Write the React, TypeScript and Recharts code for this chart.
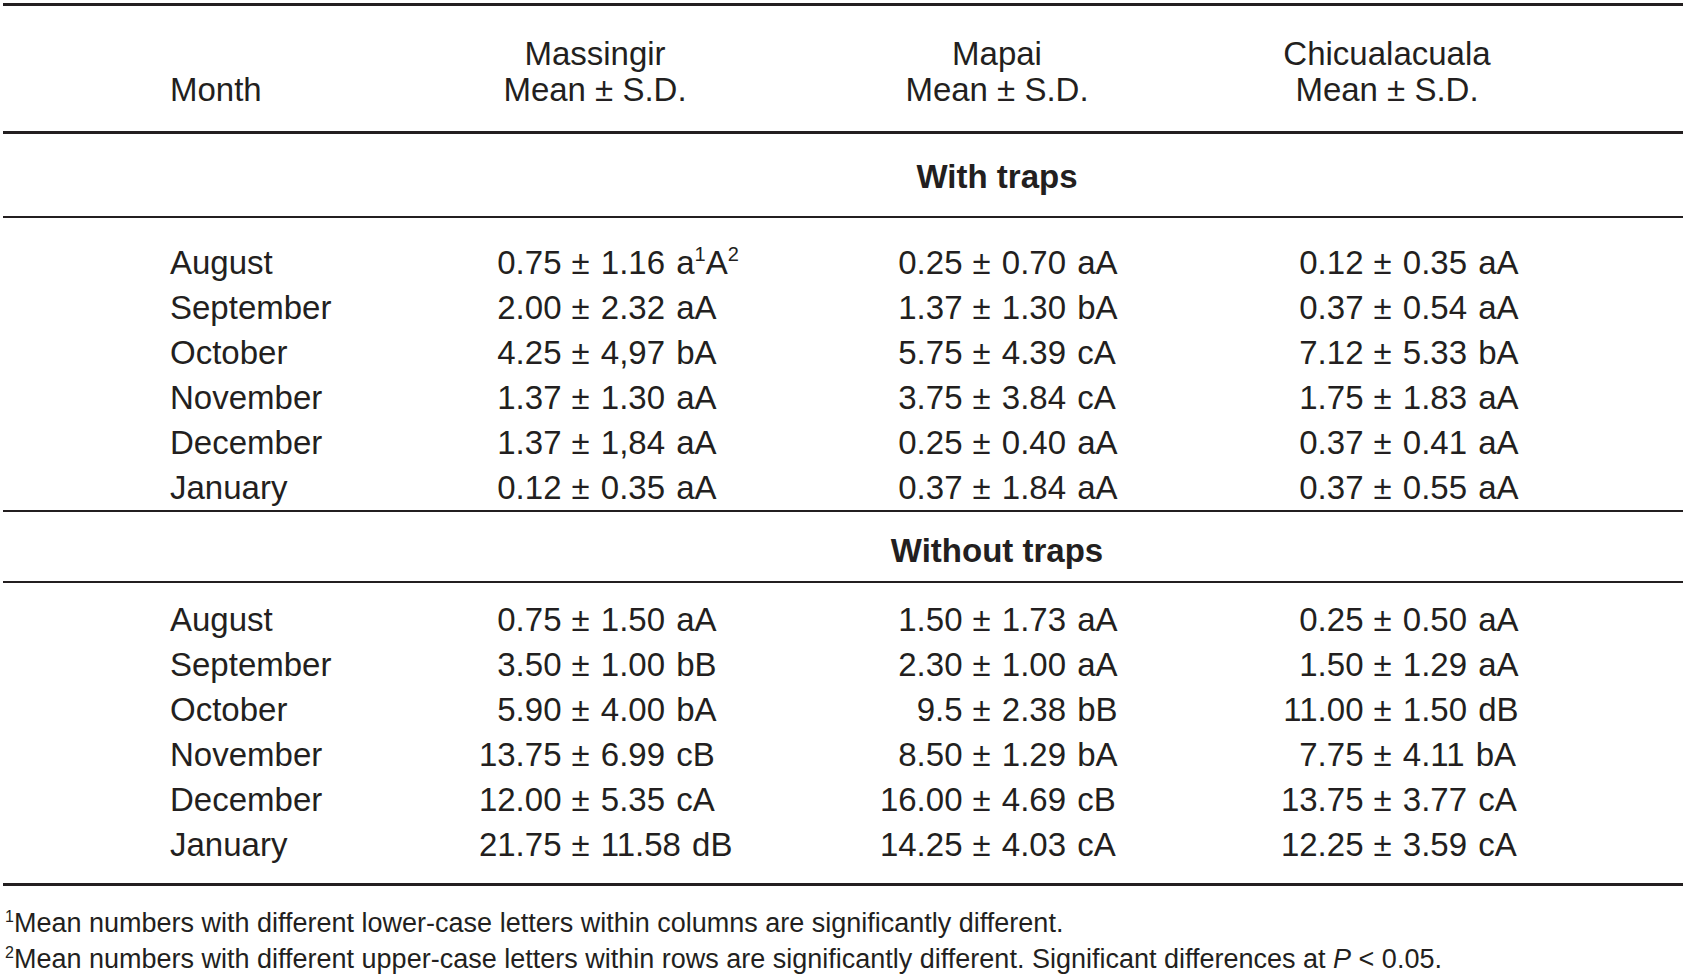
import React from "react";
import { ScatterChart, Scatter, XAxis, YAxis } from "recharts";

// table values
const months = ["August", "September", "October", "November", "December", "January"];
const sites = ["Massingir", "Mapai", "Chicualacuala"];
const sections = ["With traps", "Without traps"];

const withMassingirMean = ["0.75", "2.00", "4.25", "1.37", "1.37", "0.12"];
const withMassingirSD = ["1.16", "2.32", "4,97", "1.30", "1,84", "0.35"];
const withMassingirSig = ["a^1A^2", "aA", "bA", "aA", "aA", "aA"];
const withMapaiMean = ["0.25", "1.37", "5.75", "3.75", "0.25", "0.37"];
const withMapaiSD = ["0.70", "1.30", "4.39", "3.84", "0.40", "1.84"];
const withMapaiSig = ["aA", "bA", "cA", "cA", "aA", "aA"];
const withChicMean = ["0.12", "0.37", "7.12", "1.75", "0.37", "0.37"];
const withChicSD = ["0.35", "0.54", "5.33", "1.83", "0.41", "0.55"];
const withChicSig = ["aA", "aA", "bA", "aA", "aA", "aA"];

const withoutMassingirMean = ["0.75", "3.50", "5.90", "13.75", "12.00", "21.75"];
const withoutMassingirSD = ["1.50", "1.00", "4.00", "6.99", "5.35", "11.58"];
const withoutMassingirSig = ["aA", "bB", "bA", "cB", "cA", "dB"];
const withoutMapaiMean = ["1.50", "2.30", "9.5", "8.50", "16.00", "14.25"];
const withoutMapaiSD = ["1.73", "1.00", "2.38", "1.29", "4.69", "4.03"];
const withoutMapaiSig = ["aA", "aA", "bB", "bA", "cB", "cA"];
const withoutChicMean = ["0.25", "1.50", "11.00", "7.75", "13.75", "12.25"];
const withoutChicSD = ["0.50", "1.29", "1.50", "4.11", "3.77", "3.59"];
const withoutChicSig = ["aA", "aA", "dB", "bA", "cA", "cA"];

const footnotes = [
  { mark: "1", text: "Mean numbers with different lower-case letters within columns are significantly different." },
  { mark: "2", text: "Mean numbers with different upper-case letters within rows are significantly different. Significant differences at ", italic: "P", tail: " < 0.05." },
];

const TEXT = "#231f20";
const FONT = '"Liberation Sans", Arial, Helvetica, sans-serif';
const FS = 33;
const MONTH_X = 170;

function build(site: string, means: string[], sds: string[], sigs: string[]) {
  return months.map((month, i) => ({ site, month, mean: means[i], sd: sds[i], sig: sigs[i] }));
}

const withData = [
  build(sites[0], withMassingirMean, withMassingirSD, withMassingirSig),
  build(sites[1], withMapaiMean, withMapaiSD, withMapaiSig),
  build(sites[2], withChicMean, withChicSD, withChicSig),
];
const withoutData = [
  build(sites[0], withoutMassingirMean, withoutMassingirSD, withoutMassingirSig),
  build(sites[1], withoutMapaiMean, withoutMapaiSD, withoutMapaiSig),
  build(sites[2], withoutChicMean, withoutChicSD, withoutChicSig),
];

// "a^1A^2" -> letters with raised footnote marks
function sigParts(sig: string) {
  const out: React.ReactNode[] = [];
  let raised = false;
  let nextSup = false;
  let k = 0;
  for (const ch of sig) {
    if (ch === "^") {
      nextSup = true;
      continue;
    }
    if (nextSup) {
      out.push(<tspan key={k++} dy={-13} fontSize={20}>{ch}</tspan>);
      raised = true;
      nextSup = false;
    } else {
      out.push(<tspan key={k++} dy={raised ? 13 : 0}>{ch}</tspan>);
      raised = false;
    }
  }
  return out;
}

function Cell(props: any) {
  const { cx, cy, payload } = props;
  if (cx == null || cy == null) return null;
  return (
    <g>
      <text x={cx} y={cy} dy="0.36em" textAnchor="end" fontSize={FS} fill={TEXT} fontFamily={FONT}>
        {payload.mean}
      </text>
      <text
        x={cx + 10}
        y={cy}
        dy="0.36em"
        textAnchor="start"
        fontSize={FS}
        fill={TEXT}
        fontFamily={FONT}
        wordSpacing={2}
      >
        {`± ${payload.sd} `}
        {sigParts(payload.sig)}
      </text>
    </g>
  );
}

function MonthTick({ y, payload }: any) {
  return (
    <text x={MONTH_X} y={y} dy="0.36em" textAnchor="start" fontSize={FS} fill={TEXT} fontFamily={FONT}>
      {payload.value}
    </text>
  );
}

function Section({ data, top }: { data: any[][]; top: number }) {
  return (
    <div style={{ position: "absolute", left: 0, top }}>
      <ScatterChart width={1686} height={270} margin={{ top: 0, right: 122, bottom: 0, left: 0 }}>
        <XAxis type="category" dataKey="site" allowDuplicatedCategory={false} hide />
        <YAxis
          type="category"
          dataKey="month"
          allowDuplicatedCategory={false}
          reversed
          width={361}
          axisLine={false}
          tickLine={false}
          tick={<MonthTick />}
          interval={0}
        />
        {data.map((d, i) => (
          <Scatter key={sites[i]} data={d} shape={<Cell />} isAnimationActive={false} />
        ))}
      </ScatterChart>
    </div>
  );
}

function Rule({ top, h }: { top: number; h: number }) {
  return <div style={{ position: "absolute", left: 3, width: 1680, top, height: h, background: TEXT }} />;
}

function Label({ x, y, text, bold, align = "center" }: any) {
  const lh = 40;
  const style: React.CSSProperties = {
    position: "absolute",
    top: y - lh / 2,
    lineHeight: `${lh}px`,
    fontSize: FS,
    fontWeight: bold ? 700 : 400,
    whiteSpace: "nowrap",
  };
  if (align === "center") {
    style.left = x - 300;
    style.width = 600;
    style.textAlign = "center";
  } else {
    style.left = x;
  }
  return <div style={style}>{text}</div>;
}

const headerX = [595, 997, 1387];

export default function App() {
  return (
    <div
      style={{
        position: "absolute",
        left: 0,
        top: 0,
        width: 1686,
        height: 978,
        background: "#fff",
        color: TEXT,
        fontFamily: FONT,
      }}
    >
      <Rule top={3} h={3} />
      <Label x={MONTH_X} y={90} text="Month" align="left" />
      {sites.map((s, i) => (
        <React.Fragment key={s}>
          <Label x={headerX[i]} y={54} text={s} />
          <Label x={headerX[i]} y={90} text="Mean ± S.D." />
        </React.Fragment>
      ))}
      <Rule top={131} h={3} />
      <Label x={997} y={177} text={sections[0]} bold />
      <Rule top={216} h={2} />
      <Section data={withData} top={240} />
      <Rule top={510} h={2} />
      <Label x={997} y={551} text={sections[1]} bold />
      <Rule top={581} h={2} />
      <Section data={withoutData} top={597} />
      <Rule top={883} h={3} />
      {footnotes.map((f, i) => (
        <div
          key={f.mark}
          style={{
            position: "absolute",
            left: 5,
            top: 923 + i * 36 - 18,
            lineHeight: "36px",
            fontSize: 27,
            whiteSpace: "nowrap",
          }}
        >
          <span style={{ fontSize: 16, position: "relative", top: -10 }}>{f.mark}</span>
          {f.text}
          {f.italic && <i>{f.italic}</i>}
          {f.tail}
        </div>
      ))}
    </div>
  );
}
